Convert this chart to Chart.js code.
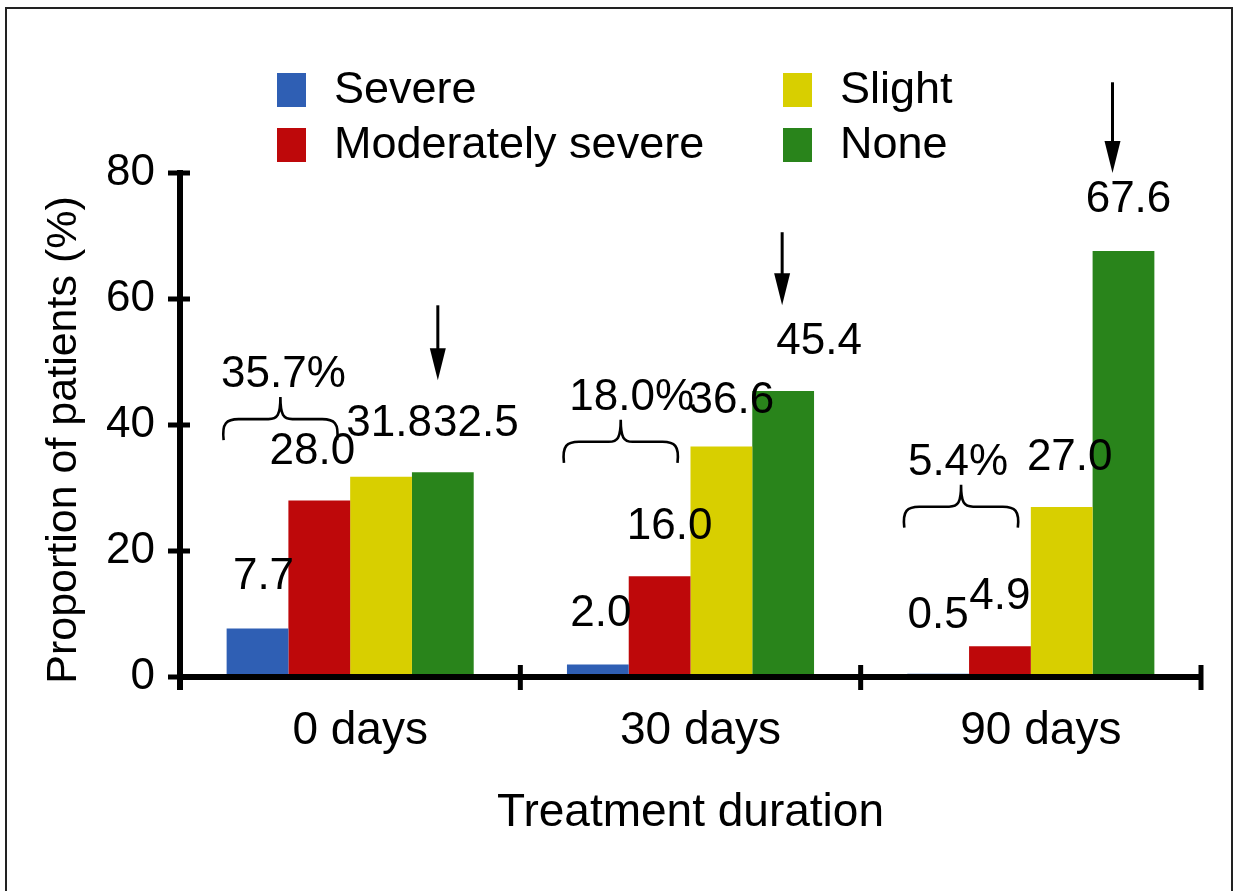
<!DOCTYPE html>
<html>
<head>
<meta charset="utf-8">
<script src="https://cdn.jsdelivr.net/npm/chart.js@4.4.0/dist/chart.umd.min.js"></script>
<style>
  html, body { margin: 0; padding: 0; background: #fff; }
  #wrap { position: relative; width: 1238px; height: 891px; overflow: hidden; }
  #frame { position: absolute; left: 5px; top: 7px; width: 1224px; height: 1000px; border: 2px solid #222; }
  canvas { position: absolute; left: 0; top: 0; }
</style>
</head>
<body>
<div id="wrap">
  <div id="frame"></div>
  <canvas id="chart" width="1238" height="891"></canvas>
</div>
<script>
var durations = ['0 days', '30 days', '90 days'];
var severe = [7.7, 2.0, 0.5];
var modSevere = [28.0, 16.0, 4.9];
var slight = [31.8, 36.6, 27.0];
var none = [32.5, 45.4, 67.6];
var yTicks = [0, 20, 40, 60, 80];

// severe + moderately severe share, shown over a brace
var shareLabels = ['35.7%', '18.0%', '5.4%'];
// brace foot and arrow ends, in axis units
var braceBase = [37.6, 34.0, 23.7];
var arrowFrom = [59.0, 70.6, 94.4];
var arrowTo = [47.1, 59.0, 80.0];

var FONT = "'Liberation Sans', Arial, sans-serif";

// nudges for the value labels (px), per series then per group
var labelDx = [[6, 3, 0], [-7, 10, 0], [8, 10, 8], [33, 36, 5]];
var labelDy = [[52, 51, 58], [49, 49, 49], [53, 46, 49], [48, 49, 51]];
var shareDx = [3, 11, -3];
var arrowDx = [-5, -1, -11];

var axesPlugin = {
  id: 'axes',
  afterDatasetsDraw: function (chart) {
    var ctx = chart.ctx, a = chart.chartArea;
    var xs = chart.scales.x, ys = chart.scales.y;
    ctx.save();
    ctx.strokeStyle = '#000';
    ctx.lineWidth = 6;
    ctx.beginPath();
    ctx.moveTo(a.left, a.top - 3);
    ctx.lineTo(a.left, a.bottom + 13);
    ctx.moveTo(a.left - 3, a.bottom);
    ctx.lineTo(a.right + 2, a.bottom);
    ctx.stroke();
    ctx.lineWidth = 5;
    ctx.beginPath();
    ys.ticks.forEach(function (t, i) {
      var py = ys.getPixelForTick(i);
      ctx.moveTo(a.left - 12, py);
      ctx.lineTo(a.left + 10, py);
    });
    for (var i = 1; i <= xs.ticks.length; i++) {
      var px = i < xs.ticks.length ? (xs.getPixelForTick(i - 1) + xs.getPixelForTick(i)) / 2 : a.right;
      ctx.moveTo(px, a.bottom - 12);
      ctx.lineTo(px, a.bottom + 13);
    }
    ctx.stroke();
    ctx.restore();
  }
};

var notesPlugin = {
  id: 'notes',
  afterDraw: function (chart) {
    var ctx = chart.ctx, ys = chart.scales.y;
    ctx.save();
    ctx.fillStyle = '#000';
    ctx.strokeStyle = '#000';
    ctx.textAlign = 'center';
    ctx.textBaseline = 'middle';
    ctx.font = '44px ' + FONT;

    // value labels
    chart.data.datasets.forEach(function (ds, i) {
      chart.getDatasetMeta(i).data.forEach(function (bar, j) {
        ctx.fillText(ds.data[j].toFixed(1), bar.x + labelDx[i][j], bar.y - labelDy[i][j]);
      });
    });

    // braces over severe + moderately severe
    var m0 = chart.getDatasetMeta(0).data, m1 = chart.getDatasetMeta(1).data;
    for (var j = 0; j < durations.length; j++) {
      var x0 = m0[j].x - m0[j].width / 2 - 4;
      var x1 = m1[j].x + m1[j].width / 2 - 12;
      var xc = (x0 + x1) / 2;
      var yb = ys.getPixelForValue(braceBase[j]);
      var yt = yb - 43, ym = yb - 21;
      ctx.lineWidth = 2.6;
      ctx.beginPath();
      ctx.moveTo(x0 + 1, yb);
      ctx.bezierCurveTo(x0 - 1, ym + 4, x0 + 4, ym, x0 + 16, ym);
      ctx.lineTo(xc - 12, ym);
      ctx.bezierCurveTo(xc - 3, ym, xc, ym - 4, xc, yt);
      ctx.bezierCurveTo(xc, ym - 4, xc + 3, ym, xc + 12, ym);
      ctx.lineTo(x1 - 16, ym);
      ctx.bezierCurveTo(x1 - 4, ym, x1 + 1, ym + 4, x1 - 1, yb);
      ctx.stroke();
      ctx.fillText(shareLabels[j], xc + shareDx[j], yt - 22);
    }

    // arrows onto the "None" bars
    var m3 = chart.getDatasetMeta(3).data;
    for (var k = 0; k < durations.length; k++) {
      var ax = m3[k].x + arrowDx[k];
      var yf = ys.getPixelForValue(arrowFrom[k]);
      var yto = ys.getPixelForValue(arrowTo[k]);
      ctx.lineWidth = 3;
      ctx.beginPath();
      ctx.moveTo(ax, yf);
      ctx.lineTo(ax, yto - 25);
      ctx.stroke();
      ctx.beginPath();
      ctx.moveTo(ax - 8, yto - 32);
      ctx.lineTo(ax + 8, yto - 32);
      ctx.lineTo(ax, yto);
      ctx.closePath();
      ctx.fill();
    }

    // legend in two columns
    var cols = [277, 783], rows = [73, 128];
    ctx.textAlign = 'left';
    ctx.font = '45px ' + FONT;
    chart.data.datasets.forEach(function (ds, i) {
      var bx = cols[Math.floor(i / 2)], by = rows[i % 2];
      ctx.fillStyle = ds.backgroundColor;
      ctx.fillRect(bx, by, 29, 34);
      ctx.fillStyle = '#000';
      ctx.fillText(ds.label, bx + 57, by + 18);
    });

    // y axis title
    ctx.translate(64, 440);
    ctx.rotate(-Math.PI / 2);
    ctx.textAlign = 'center';
    ctx.font = '43px ' + FONT;
    ctx.fillText('Proportion of patients (%)', 0, 0);
    ctx.restore();
  }
};

new Chart(document.getElementById('chart'), {
  type: 'bar',
  data: {
    labels: durations,
    datasets: [
      { label: 'Severe', data: severe, backgroundColor: 'rgb(47,95,180)' },
      { label: 'Moderately severe', data: modSevere, backgroundColor: 'rgb(190,8,10)' },
      { label: 'Slight', data: slight, backgroundColor: 'rgb(216,207,0)' },
      { label: 'None', data: none, backgroundColor: 'rgb(41,132,27)' }
    ]
  },
  options: {
    responsive: false,
    animation: false,
    layout: { padding: { top: 173, right: 37, bottom: 0, left: 0 } },
    datasets: { bar: { categoryPercentage: 0.726, barPercentage: 1.0 } },
    plugins: { legend: { display: false }, tooltip: { enabled: false } },
    scales: {
      x: {
        grid: { display: false, drawTicks: false },
        border: { display: false },
        ticks: { color: '#000', font: { family: FONT, size: 46 }, padding: 27, labelOffset: 10 },
        title: {
          display: true, text: 'Treatment duration', color: '#000',
          font: { family: FONT, size: 46 }, padding: { top: 0, bottom: 50 }
        },
        afterFit: function (s) { s.height = 214; }
      },
      y: {
        min: 0, max: 80,
        afterBuildTicks: function (s) { s.ticks = yTicks.map(function (v) { return { value: v }; }); },
        grid: { display: false, drawTicks: false },
        border: { display: false },
        ticks: { color: '#000', font: { family: FONT, size: 44 }, padding: 25 },
        afterFit: function (s) { s.width = 180; }
      }
    }
  },
  plugins: [axesPlugin, notesPlugin]
});
</script>
</body>
</html>
